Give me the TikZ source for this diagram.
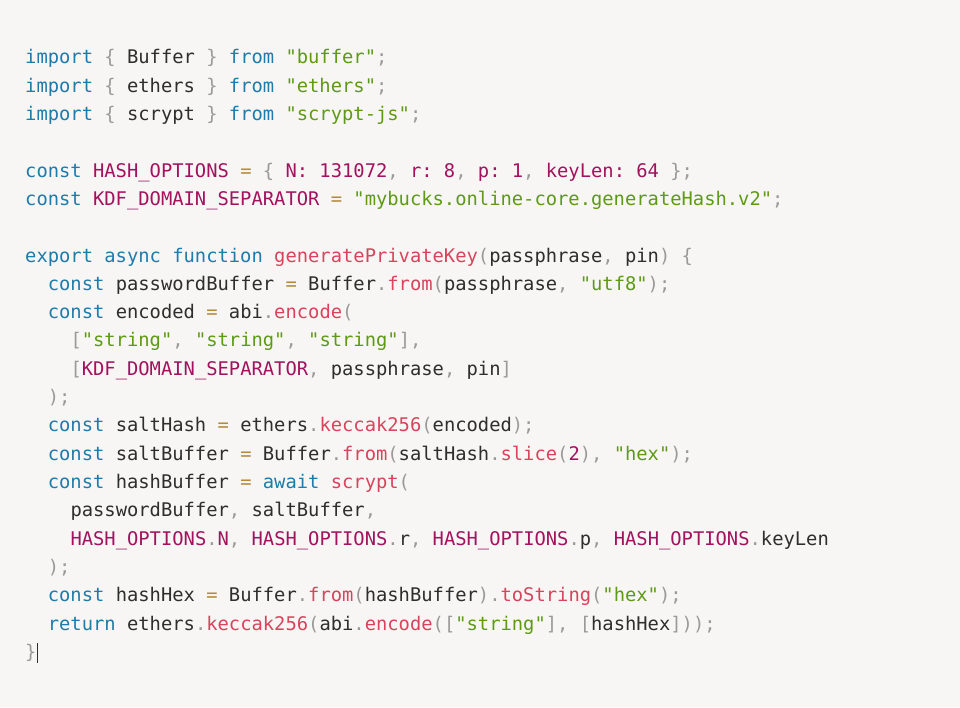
\documentclass[tikz,border=0pt]{standalone}
\usepackage{fontspec}
\setmonofont{DejaVu Sans Mono}
\definecolor{bgc}{HTML}{F7F6F5}
\definecolor{kwc}{HTML}{1F7BAA}
\definecolor{cnc}{HTML}{A3125E}
\definecolor{stc}{HTML}{5E9A14}
\definecolor{fnc}{HTML}{D9435C}
\definecolor{puc}{HTML}{9A9A9A}
\definecolor{opc}{HTML}{B58A3C}
\definecolor{txc}{HTML}{2E2E2E}
\newcommand\cK[1]{\textcolor{kwc}{#1}}
\newcommand\cC[1]{\textcolor{cnc}{#1}}
\newcommand\cS[1]{\textcolor{stc}{#1}}
\newcommand\cF[1]{\textcolor{fnc}{#1}}
\newcommand\cP[1]{\textcolor{puc}{#1}}
\newcommand\cO[1]{\textcolor{opc}{#1}}
\tikzset{codeline/.style={anchor=base west,inner sep=0pt,text=txc,font=\fontsize{18.8}{20}\selectfont\ttfamily}}
\newcommand\cl[3]{\node[codeline] (l#1) at ({25+#2*11.33pt},{707pt-(64pt+(#1-1)*28.3pt)}) {#3};}
\begin{document}
\begin{tikzpicture}[x=1pt,y=1pt]
\fill[bgc] (0,0) rectangle (960,707);
\useasboundingbox (0,0) rectangle (960,707);
\cl{1}{0}{\cK{import} \cP{\{} Buffer \cP{\}} \cK{from} \cS{"buffer"}\cP{;}}
\cl{2}{0}{\cK{import} \cP{\{} ethers \cP{\}} \cK{from} \cS{"ethers"}\cP{;}}
\cl{3}{0}{\cK{import} \cP{\{} scrypt \cP{\}} \cK{from} \cS{"scrypt-js"}\cP{;}}
\cl{5}{0}{\cK{const} \cC{HASH\_OPTIONS} \cO{=} \cP{\{} \cC{N: 131072}\cP{,} \cC{r: 8}\cP{,} \cC{p: 1}\cP{,} \cC{keyLen: 64} \cP{\}}\cP{;}}
\cl{6}{0}{\cK{const} \cC{KDF\_DOMAIN\_SEPARATOR} \cO{=} \cS{"mybucks.online-core.generateHash.v2"}\cP{;}}
\cl{8}{0}{\cK{export async function} \cF{generatePrivateKey}\cP{(}passphrase\cP{,} pin\cP{)} \cP{\{}}
\cl{9}{2}{\cK{const} passwordBuffer \cO{=} Buffer\cP{.}\cF{from}\cP{(}passphrase\cP{,} \cS{"utf8"}\cP{);}}
\cl{10}{2}{\cK{const} encoded \cO{=} abi\cP{.}\cF{encode}\cP{(}}
\cl{11}{4}{\cP{[}\cS{"string"}\cP{,} \cS{"string"}\cP{,} \cS{"string"}\cP{],}}
\cl{12}{4}{\cP{[}\cC{KDF\_DOMAIN\_SEPARATOR}\cP{,} passphrase\cP{,} pin\cP{]}}
\cl{13}{2}{\cP{);}}
\cl{14}{2}{\cK{const} saltHash \cO{=} ethers\cP{.}\cF{keccak256}\cP{(}encoded\cP{);}}
\cl{15}{2}{\cK{const} saltBuffer \cO{=} Buffer\cP{.}\cF{from}\cP{(}saltHash\cP{.}\cF{slice}\cP{(}\cC{2}\cP{),} \cS{"hex"}\cP{);}}
\cl{16}{2}{\cK{const} hashBuffer \cO{=} \cK{await} \cF{scrypt}\cP{(}}
\cl{17}{4}{passwordBuffer\cP{,} saltBuffer\cP{,}}
\cl{18}{4}{\cC{HASH\_OPTIONS}\cP{.}\cC{N}\cP{,} \cC{HASH\_OPTIONS}\cP{.}r\cP{,} \cC{HASH\_OPTIONS}\cP{.}p\cP{,} \cC{HASH\_OPTIONS}\cP{.}keyLen}
\cl{19}{2}{\cP{);}}
\cl{20}{2}{\cK{const} hashHex \cO{=} Buffer\cP{.}\cF{from}\cP{(}hashBuffer\cP{).}\cF{toString}\cP{(}\cS{"hex"}\cP{);}}
\cl{21}{2}{\cK{return} ethers\cP{.}\cF{keccak256}\cP{(}abi\cP{.}\cF{encode}\cP{([}\cS{"string"}\cP{],} \cP{[}hashHex\cP{]));}}
\cl{22}{0}{\cP{\}}}
\coordinate (ct) at ([xshift=1pt,yshift=15pt]l22.base east);
\coordinate (cb) at ([xshift=1pt,yshift=-5pt]l22.base east);
\draw[txc,line width=1.2pt] (ct) -- (cb);
\end{tikzpicture}
\end{document}
